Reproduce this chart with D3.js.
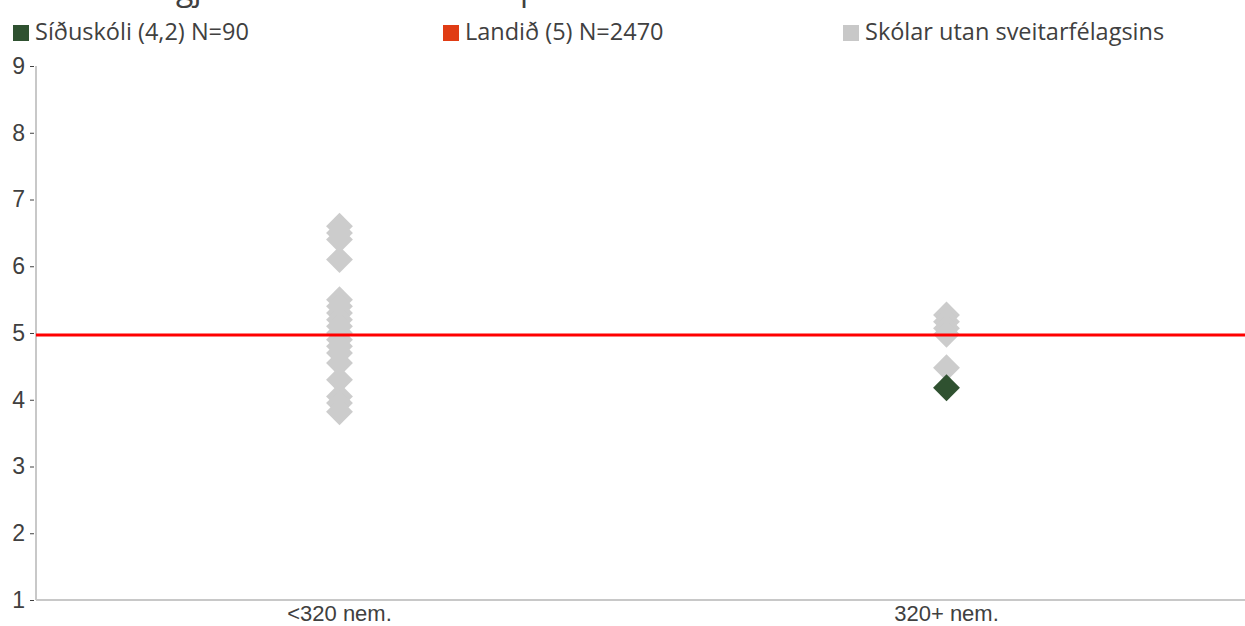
<!DOCTYPE html>
<html><head><meta charset="utf-8">
<script src="https://cdn.jsdelivr.net/npm/d3@7"></script>
<style>
html,body{margin:0;padding:0;background:#fff;}
svg{display:block;}
</style></head>
<body>
<svg id="chart" width="1245" height="626"></svg>
<script>
const categories = ["<320 nem.", "320+ nem."];
const yTicks = [1,2,3,4,5,6,7,8,9];
const otherSmall = [6.6, 6.5, 6.4, 6.1, 5.5, 5.4, 5.3, 5.2, 5.1, 5.0, 4.9, 4.8, 4.7, 4.55, 4.3, 4.05, 3.95, 3.82];
const otherLarge = [5.27, 5.17, 5.07, 4.98, 4.48];
const schoolCategory = "320+ nem.";
const schoolValue = 4.18;
const nationalValue = 4.97;
const legendLabels = ["Síðuskóli (4,2) N=90", "Landið (5) N=2470", "Skólar utan sveitarfélagsins"];
const legendColors = ["#2f5130", "#e03c14", "#c8c8c8"];

const svg = d3.select("#chart");
const y = d3.scaleLinear().domain([1, 9]).range([600, 66]);
const x = d3.scaleBand().domain(categories).range([36, 1250]);

// title fragments (cut off at top, as in the reference)
svg.append("text").attr("x", 176).attr("y", 0).attr("font-family", "Open Sans, sans-serif")
  .attr("font-size", 32).attr("fill", "#404040").text("gj");
svg.append("text").attr("x", 520).attr("y", 0).attr("font-family", "Open Sans, sans-serif")
  .attr("font-size", 32).attr("fill", "#404040").text("p");

// legend
const legX = [13, 443, 843];
legendLabels.forEach((l, i) => {
  const g = svg.append("g").attr("transform", `translate(${legX[i]},0)`);
  g.append("rect").attr("x", 0).attr("y", 25).attr("width", 16).attr("height", 16).attr("fill", legendColors[i]);
  g.append("text").attr("x", 22).attr("y", 40).attr("font-family", "Open Sans, sans-serif")
    .attr("font-size", 23.5).attr("fill", "#404040").text(l);
});

// y axis
const yAxis = svg.append("g").attr("transform", "translate(36,0)")
  .call(d3.axisLeft(y).tickValues(yTicks).tickSize(6).tickPadding(5).tickFormat(d3.format("d")));
yAxis.select(".domain").attr("stroke", "#c8c8c8").attr("stroke-width", 2).attr("d", `M0,${y(9)}V${y(1)}`);
yAxis.selectAll(".tick line").attr("stroke", "#404040").attr("x2", -6).attr("x1", -2);
yAxis.selectAll(".tick text").attr("font-family", "Liberation Sans, Arial, sans-serif")
  .attr("font-size", 23).attr("fill", "#404040");

// x axis
const xAxis = svg.append("g").attr("transform", `translate(0,${y(1)})`)
  .call(d3.axisBottom(x).tickSize(0).tickPadding(5));
xAxis.select(".domain").attr("stroke", "#c8c8c8").attr("stroke-width", 2).attr("d", `M36,0H1245`);
xAxis.selectAll(".tick text").attr("font-family", "Liberation Sans, Arial, sans-serif")
  .attr("font-size", 22).attr("fill", "#404040").attr("dy", "0.71em");

const diamond = d3.symbol().type(d3.symbolSquare).size(360);
const cx = c => x(c) + x.bandwidth() / 2;

const pts = otherSmall.map(v => ({c: categories[0], v}))
  .concat(otherLarge.map(v => ({c: categories[1], v})));

svg.append("g").selectAll("path").data(pts).join("path")
  .attr("d", diamond)
  .attr("transform", d => `translate(${cx(d.c)},${y(d.v)}) rotate(45)`)
  .attr("fill", "#cccccc");

// national line
svg.append("line").attr("x1", 36).attr("x2", 1245)
  .attr("y1", y(nationalValue)).attr("y2", y(nationalValue))
  .attr("stroke", "#ff0000").attr("stroke-width", 3);

// school marker
svg.append("path").attr("d", diamond)
  .attr("transform", `translate(${cx(schoolCategory)},${y(schoolValue)}) rotate(45)`)
  .attr("fill", legendColors[0]);
</script>
</body></html>
